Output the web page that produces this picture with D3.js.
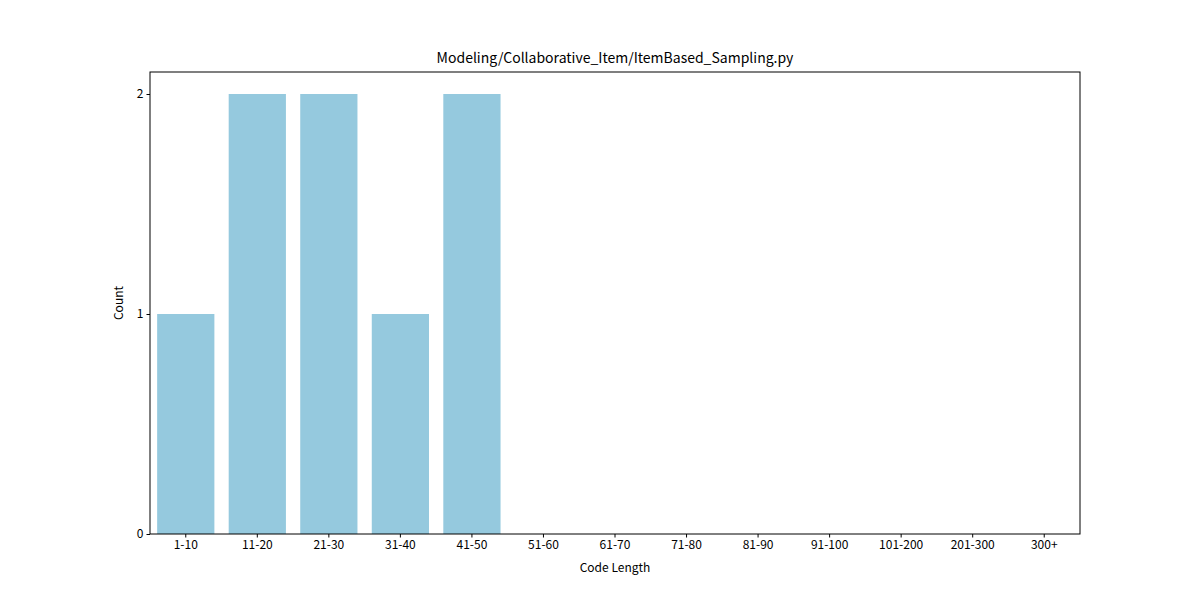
<!DOCTYPE html>
<html><head><meta charset="utf-8">
<script src="https://cdn.jsdelivr.net/npm/d3@7"></script>
<style>body{margin:0;background:#fff}text{font-family:"Noto Sans CJK KR","Noto Sans",sans-serif;fill:#000}</style>
</head><body><svg id="c" width="1200" height="600"></svg>
<script>
const categories=["1-10","11-20","21-30","31-40","41-50","51-60","61-70","71-80","81-90","91-100","101-200","201-300","300+"];
const counts=[1,2,2,1,2,0,0,0,0,0,0,0,0];
const yTicks=[0,1,2];
const svg=d3.select("#c");
const L=150,R=1080,T=72,B=534;
const x=d3.scaleBand().domain(categories).range([L,R]).paddingInner(0.2).paddingOuter(0.1);
const y=d3.scaleLinear().domain([0,2.1]).range([B,T]);
svg.selectAll("rect.bar").data(categories).enter().append("rect")
 .attr("x",d=>x(d)).attr("width",x.bandwidth())
 .attr("y",(d,i)=>y(counts[i])).attr("height",(d,i)=>B-y(counts[i]))
 .attr("fill","#95c9de");
svg.append("rect").attr("x",L).attr("y",T).attr("width",R-L).attr("height",B-T).attr("fill","none").attr("stroke","#000").attr("stroke-width",1);
const xa=svg.append("g").attr("transform",`translate(0,${B})`).call(d3.axisBottom(x).tickSizeOuter(0).tickSize(3.5));
const ya=svg.append("g").attr("transform",`translate(${L},0)`).call(d3.axisLeft(y).tickValues(yTicks).tickFormat(d3.format("d")).tickSizeOuter(0).tickSize(3.5));
[xa,ya].forEach(a=>{a.select(".domain").remove();a.selectAll("text").style("font-size","12px");});
svg.append("text").attr("x",(L+R)/2).attr("y",63).attr("text-anchor","middle").style("font-size","14px").text("Modeling/Collaborative_Item/ItemBased_Sampling.py");
svg.append("text").attr("x",(L+R)/2).attr("y",572).attr("text-anchor","middle").style("font-size","12px").text("Code Length");
svg.append("text").attr("transform",`translate(123,${(T+B)/2}) rotate(-90)`).attr("text-anchor","middle").style("font-size","12px").text("Count");
</script></body></html>
